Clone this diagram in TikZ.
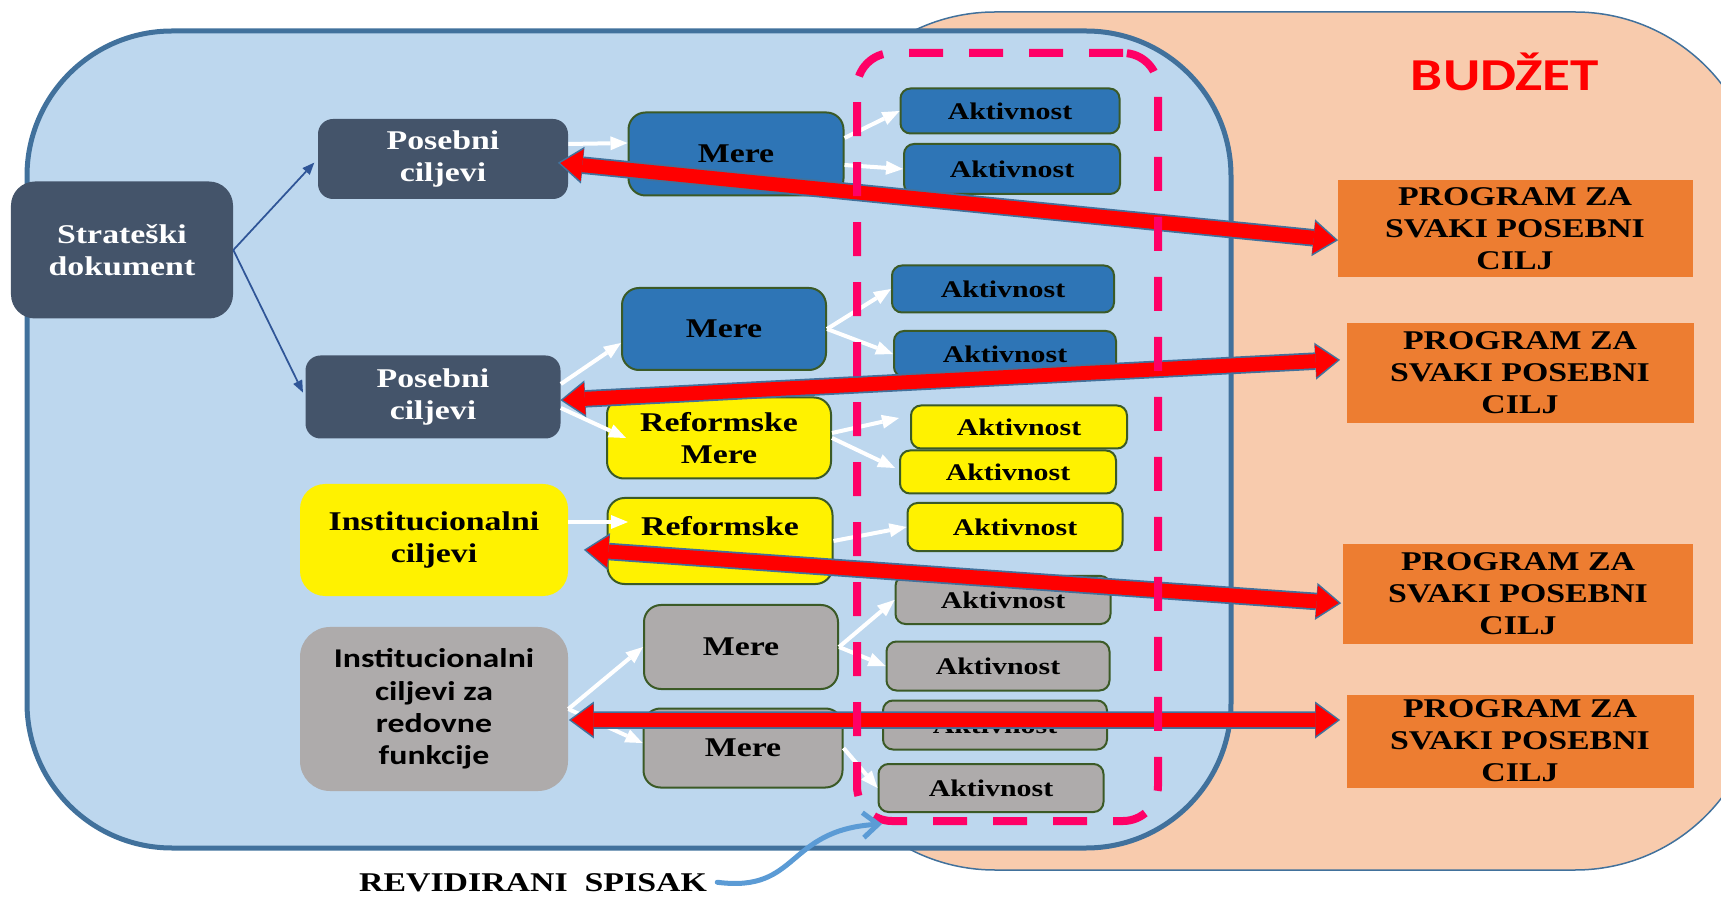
\documentclass[tikz,border=0pt]{standalone}
\usepackage{fontspec}
\setmainfont{Liberation Serif}[FakeStretch=1.25]
\newfontfamily\sansfam{Carlito}[FakeStretch=1.25]
\usetikzlibrary{arrows.meta}

\definecolor{slate}{HTML}{44546A}
\definecolor{boxblue}{HTML}{2E75B6}
\definecolor{boxgray}{HTML}{AEABAB}
\definecolor{boxedge}{HTML}{3B5A26}
\definecolor{progorange}{HTML}{ED7D31}
\definecolor{fieldblue}{HTML}{BDD7EE}
\definecolor{fieldedge}{HTML}{41719C}
\definecolor{peach}{HTML}{F8CBAD}
\definecolor{dashpink}{HTML}{FF0066}
\definecolor{linkblue}{HTML}{2F5597}
\definecolor{curveblue}{HTML}{5B9BD5}

\begin{document}
\begin{tikzpicture}[x=0.2mm, y=-0.2mm]
    \tikzstyle{goal}=[rounded corners=3mm, fill=slate, text=white, inner sep=0pt, align=center, font=\bfseries\fontsize{15.4}{18.5}\selectfont]
    \tikzstyle{mera}=[rounded corners=3.4mm, draw=boxedge, line width=0.4mm, inner sep=0pt, align=center, font=\bfseries\fontsize{15.4}{18.3}\selectfont]
    \tikzstyle{akt}=[rounded corners=2mm, draw=boxedge, line width=0.4mm, inner sep=0pt, font=\bfseries\fontsize{13.6}{16}\selectfont]
    \tikzstyle{program}=[fill=progorange, inner sep=0pt, align=center, font=\bfseries\fontsize{15.4}{18.2}\selectfont]
    \tikzstyle{flow}=[white, line width=0.8mm, -{Triangle[length=3.4mm,width=2.8mm,line width=0pt]}]
    \tikzstyle{link}=[linkblue, line width=0.35mm, -{Triangle[length=2.4mm,width=2mm,line width=0pt]}, shorten >=1mm]
    \tikzstyle{rim}=[fieldedge, line width=3.5mm, {Triangle[length=5mm,width=7.4mm,line width=0pt]}-{Triangle[length=5mm,width=7.4mm,line width=0pt]}, shorten <=-0.5mm, shorten >=-0.5mm]
    \tikzstyle{veza}=[red, line width=2.8mm, {Triangle[length=4.4mm,width=6.4mm,line width=0pt]}-{Triangle[length=4.4mm,width=6.4mm,line width=0pt]}]

    \clip (0,0) rectangle (1721,898);

    % Okviri
    \filldraw[fill=peach, draw=fieldedge, line width=0.3mm, rounded corners=37mm] (810,12) rectangle (1760,870);
    \filldraw[fill=fieldblue, draw=fieldedge, line width=1mm, rounded corners=29mm] (27,31) rectangle (1231,848);
    \node[font=\sansfam\bfseries\fontsize{26}{30}\selectfont, text=red] (budzet) at (1505,72) {BUDŽET};

    % Ciljevi
    \node[goal, minimum width=44.4mm, minimum height=27.4mm, rounded corners=4.8mm] (sd) at (122,250) {Strateški\\dokument};
    \node[goal, minimum width=50mm, minimum height=16mm] (pc1) at (443,159) {Posebni\\ciljevi};
    \node[goal, minimum width=51mm, minimum height=16.6mm] (pc2) at (433,397) {Posebni\\ciljevi};
    \node[goal, fill=yellow, text=black, minimum width=53.6mm, minimum height=22.4mm, rounded corners=5mm] (ic) at (434,540) {Institucionalni\\ciljevi};
    \node[goal, fill=boxgray, text=black, minimum width=53.6mm, minimum height=32.8mm, rounded corners=6mm, font=\sansfam\bfseries\fontsize{15.4}{18.4}\selectfont] (icr) at (434,709) {Institucionalni\\ciljevi za\\redovne\\funkcije};

    % Mere
    \node[mera, fill=boxblue, minimum width=43mm, minimum height=16.6mm] (m1) at (736,154) {Mere};
    \node[mera, fill=boxblue, minimum width=40.8mm, minimum height=16.4mm] (m2) at (724,329) {Mere};
    \node[mera, fill=yellow, minimum width=44.8mm, minimum height=16.2mm] (rm1) at (719,438) {Reformske\\Mere};
    \node[mera, fill=yellow, minimum width=45mm, minimum height=17.2mm] (rm2) at (720,541) {};
    \node[font=\bfseries\fontsize{15.4}{18.3}\selectfont] (rm2t) at (720,526) {Reformske};
    \node[mera, fill=boxgray, minimum width=38.8mm, minimum height=16.8mm] (gm1) at (741,647) {Mere};
    \node[mera, fill=boxgray, minimum width=39.8mm, minimum height=15.8mm] (gm2) at (743,748) {Mere};

    % Aktivnosti
    \node[akt, fill=boxblue, minimum width=43.8mm, minimum height=9mm] (a1) at (1010,111) {Aktivnost};
    \node[akt, fill=boxblue, minimum width=43.2mm, minimum height=10mm] (a2) at (1012,169) {Aktivnost};
    \node[akt, fill=boxblue, minimum width=44.4mm, minimum height=9.4mm] (a3) at (1003,289) {Aktivnost};
    \node[akt, fill=boxblue, minimum width=44.4mm, minimum height=9.2mm] (a4) at (1005,354) {Aktivnost};
    \node[akt, fill=yellow, minimum width=43.2mm, minimum height=8.6mm] (a5) at (1019,427) {Aktivnost};
    \node[akt, fill=yellow, minimum width=43.2mm, minimum height=8.6mm] (a6) at (1008,472) {Aktivnost};
    \node[akt, fill=yellow, minimum width=43mm, minimum height=9.6mm] (a7) at (1015,527) {Aktivnost};
    \node[akt, fill=boxgray, minimum width=43mm, minimum height=9.6mm] (a8) at (1003,600) {Aktivnost};
    \node[akt, fill=boxgray, minimum width=44.6mm, minimum height=9.8mm] (a9) at (998,666) {Aktivnost};
    \node[akt, fill=boxgray, minimum width=44.8mm, minimum height=9.8mm] (a10) at (995,725) {Aktivnost};
    \node[akt, fill=boxgray, minimum width=45mm, minimum height=9.6mm] (a11) at (991,788) {Aktivnost};

    % Programi
    \node[program, minimum width=71mm, minimum height=19.4mm] (p1) at (1515,229) {PROGRAM ZA\\SVAKI POSEBNI\\CILJ};
    \node[program, minimum width=69.4mm, minimum height=20mm] (p2) at (1520,373) {PROGRAM ZA\\SVAKI POSEBNI\\CILJ};
    \node[program, minimum width=70mm, minimum height=20mm] (p3) at (1518,594) {PROGRAM ZA\\SVAKI POSEBNI\\CILJ};
    \node[program, minimum width=69.4mm, minimum height=18.6mm] (p4) at (1520,741) {PROGRAM ZA\\SVAKI POSEBNI\\CILJ};

    % Strelice
    \draw[link] (sd.east) -- (pc1.west);
    \draw[link] (sd.east) -- (pc2.west);
    \draw[flow] ([yshift=3mm]pc1.east) -- ([yshift=2.2mm]m1.west);
    \draw[flow] ([yshift=3.2mm]m1.east) -- (a1.west);
    \draw[flow] ([yshift=-2.2mm]m1.east) -- (a2.west);
    \draw[flow] ([yshift=2.6mm]pc2.east) -- ([yshift=-2.8mm]m2.west);
    \draw[flow] (m2.east) -- (a3.west);
    \draw[flow] (m2.east) -- (a4.west);
    \draw[flow] ([yshift=-2.2mm]pc2.east) -- ([xshift=4mm]rm1.west);
    \draw[flow] ([yshift=1mm]rm1.east) -- ([xshift=-2.2mm,yshift=1.8mm]a5.west);
    \draw[flow] (rm1.east) -- ([xshift=-0.8mm,yshift=0.8mm]a6.west);
    \draw[flow] ([yshift=3.6mm]ic.east) -- ([xshift=4.3mm,yshift=3.8mm]rm2.west);
    \draw[flow] (rm2.east) -- (a7.west);
    \draw[flow] (icr.east) -- (gm1.west);
    \draw[flow] (icr.east) -- ([yshift=1mm]gm2.west);
    \draw[flow] (gm1.east) -- (a8.west);
    \draw[flow] (gm1.east) -- (a9.west);
    \draw[flow] (gm2.east) -- (a11.west);

    % Veze sa budzetom
    \draw[rim] ([xshift=-1.6mm,yshift=-0.8mm]pc1.east) -- ([xshift=-0.3mm,yshift=-2.2mm]p1.west);
    \draw[veza] ([xshift=-1.6mm,yshift=-0.8mm]pc1.east) -- ([xshift=-0.3mm,yshift=-2.2mm]p1.west);
    \draw[rim] ([xshift=0.4mm,yshift=-0.6mm]pc2.east) -- ([xshift=-1.7mm,yshift=2.6mm]p2.west);
    \draw[veza] ([xshift=0.4mm,yshift=-0.6mm]pc2.east) -- ([xshift=-1.7mm,yshift=2.6mm]p2.west);
    \draw[rim] ([xshift=3.6mm,yshift=-2mm]ic.east) -- ([xshift=-0.8mm,yshift=-1.8mm]p3.west);
    \draw[veza] ([xshift=3.6mm,yshift=-2mm]ic.east) -- ([xshift=-0.8mm,yshift=-1.8mm]p3.west);
    \draw[rim] ([xshift=0.6mm,yshift=-2.2mm]icr.east) -- ([xshift=-1.7mm,yshift=4.2mm]p4.west);
    \draw[veza] ([xshift=0.6mm,yshift=-2.2mm]icr.east) -- ([xshift=-1.7mm,yshift=4.2mm]p4.west);

    % Spisak
    \node[draw=dashpink, line width=1.6mm, dash pattern=on 6.8mm off 5.2mm, rounded corners=7mm, minimum width=60.2mm, minimum height=153.6mm] (lista) at (1007.5,437) {};
    \node[anchor=base, inner sep=2mm, font=\bfseries\fontsize{15.4}{18}\selectfont] (rev) at (533,891) {REVIDIRANI~ SPISAK};
    \draw[curveblue, line width=1mm, line cap=round, -{Straight Barb[length=3mm,width=5mm]}] (rev.east) .. controls (800,893) and (785,830) .. ([xshift=5.8mm,yshift=0.2mm]lista.south west);
\end{tikzpicture}
\end{document}
